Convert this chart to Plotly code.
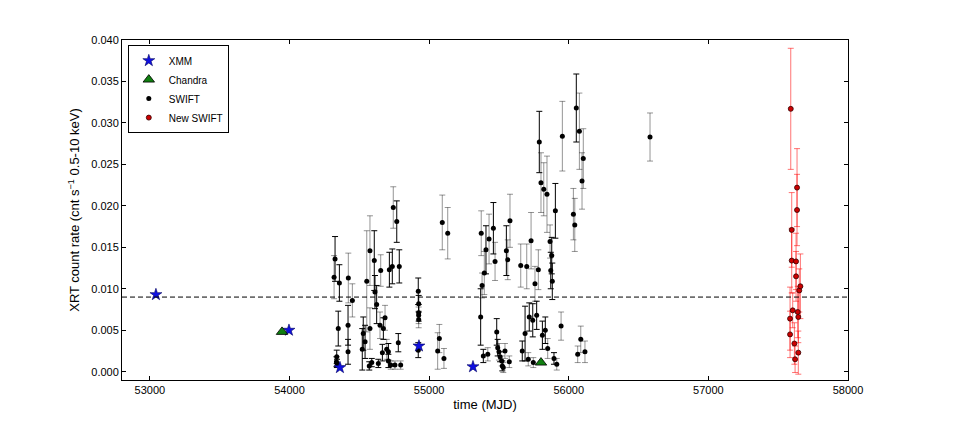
import plotly.graph_objects as go

# XMM
xmm_t = [53043, 53996, 54361, 54927, 55314]
xmm_r = [0.0093, 0.0050, 0.0005, 0.0031, 0.0006]

# Chandra
cha_t = [53946, 55801]
cha_r = [0.0048, 0.0011]

# SWIFT (dark error bars)
sw_t = [54326, 54357, 54349, 54338, 54336, 54340, 54419, 54419, 54521, 54528, 54541,
        54571, 54589, 54607, 54612, 54624, 54636, 54665, 54672, 54708, 54708, 54715,
        54736, 54768, 54786, 54779, 54922, 54925, 54925, 54922, 55369, 55388, 55407,
        55460, 55484, 55491, 55508, 55524, 55553, 55667, 55687, 55717, 55742, 55770,
        55789, 55811, 55832, 55878, 55871, 55882, 55904, 56054, 55894]
sw_r = [0.0136, 0.0107, 0.0052, 0.0018, 0.0012, 0.0010, 0.0056, 0.0024, 0.0027, 0.0046, 0.0036,
        0.0007, 0.0011, 0.0134, 0.0096, 0.0081, 0.0010, 0.0023, 0.0052, 0.0024, 0.0013, 0.0123,
        0.0127, 0.0181, 0.0127, 0.0035, 0.0097, 0.0082, 0.0071, 0.0026, 0.0066, 0.0019, 0.0147,
        0.0173, 0.0048, 0.0029, 0.0018, 0.0007, 0.0146, 0.0025, 0.0046, 0.0066, 0.0062, 0.0068,
        0.0277, 0.0044, 0.0050, 0.0140, 0.0122, 0.0109, 0.0194, 0.0318, 0.0016]
sw_e = [0.0027, 0.0022, 0.0021, 0.0008, 0.0006, 0.0005, 0.0024, 0.0015, 0.0025, 0.0020, 0.0020,
        0.0005, 0.0005, 0.0036, 0.0020, 0.0023, 0.0005, 0.0010, 0.0013, 0.0010, 0.0008, 0.0021,
        0.0021, 0.0025, 0.0020, 0.0011, 0.0016, 0.0010, 0.0010, 0.0009, 0.0034, 0.0008, 0.0029,
        0.0031, 0.0016, 0.0010, 0.0006, 0.0006, 0.0030, 0.0012, 0.0033, 0.0017, 0.0020, 0.0017,
        0.0037, 0.0017, 0.0016, 0.0022, 0.0022, 0.0022, 0.0033, 0.0041, 0.0007]

# SWIFT (light error bars)
swg_t = [54319, 54421, 54450, 54553, 54576, 54576, 54653, 54648, 54684, 54696, 54725,
         54755, 54796, 54743, 54925, 54925, 55094, 55133, 55061, 55073, 55106, 55379,
         55420, 55373, 55395, 55429, 55472, 55500, 55520, 55531, 55543, 55574, 55563,
         55579, 55656, 55699, 55710, 55730, 55746, 55758, 55782, 55801, 55821, 55844,
         55866, 55849, 55914, 55945, 55954, 56033, 56043, 56076, 56095, 56104, 56064,
         56086, 56116, 56582]
swg_r = [0.0114, 0.0113, 0.0086, 0.0109, 0.0146, 0.0052, 0.0122, 0.0056, 0.0065, 0.0027, 0.0008,
         0.0008, 0.0008, 0.0198, 0.0068, 0.0063, 0.0180, 0.0167, 0.0025, 0.0040, 0.0016, 0.0104,
         0.0021, 0.0167, 0.0119, 0.0160, 0.0133, 0.0024, 0.0013, 0.0005, 0.0025, 0.0012, 0.0135,
         0.0182, 0.0128, 0.0127, 0.0015, 0.0158, 0.0011, 0.0106, 0.0123, 0.0228, 0.0220, 0.0214,
         0.0157, 0.0028, 0.0009, 0.0055, 0.0284, 0.0190, 0.0177, 0.0290, 0.0230, 0.0257, 0.0021,
         0.0039, 0.0024, 0.0283]
swg_e = [0.0026, 0.0030, 0.0020, 0.0061, 0.0042, 0.0025, 0.0019, 0.0016, 0.0015, 0.0012, 0.0005,
         0.0005, 0.0005, 0.0025, 0.0010, 0.0010, 0.0033, 0.0031, 0.0022, 0.0017, 0.0012, 0.0015,
         0.0008, 0.0027, 0.0026, 0.0030, 0.0023, 0.0010, 0.0006, 0.0006, 0.0009, 0.0007, 0.0024,
         0.0032, 0.0026, 0.0027, 0.0008, 0.0034, 0.0006, 0.0021, 0.0024, 0.0036, 0.0032, 0.0046,
         0.0020, 0.0012, 0.0007, 0.0017, 0.0042, 0.0031, 0.0032, 0.0046, 0.0034, 0.0036, 0.0010,
         0.0016, 0.0013, 0.0029]

# New SWIFT
new_t = [57590, 57597, 57597, 57585, 57585, 57604, 57616, 57621, 57628, 57628, 57635,
         57635, 57640, 57644, 57644, 57651, 57659]
new_r = [0.0317, 0.0171, 0.0134, 0.0064, 0.0045, 0.0074, 0.0034, 0.0015, 0.0133, 0.0115, 0.0222,
         0.0195, 0.0072, 0.0066, 0.0023, 0.0098, 0.0103]
new_e = [0.0073, 0.0045, 0.0039, 0.0038, 0.0028, 0.0021, 0.0025, 0.0016, 0.0034, 0.0030, 0.0047,
         0.0043, 0.0031, 0.0031, 0.0026, 0.0026, 0.0039]

threshold = 0.009
x_ticks = [53000, 54000, 55000, 56000, 57000, 58000]
y_ticks = [0.000, 0.005, 0.010, 0.015, 0.020, 0.025, 0.030, 0.035, 0.040]

fig = go.Figure()

fig.add_trace(go.Scatter(
    x=swg_t, y=swg_r, mode="markers", name="SWIFT", showlegend=False,
    marker=dict(color="black", size=5),
    error_y=dict(type="data", array=swg_e, color="rgba(0,0,0,0.42)", thickness=1, width=3)))
fig.add_trace(go.Scatter(
    x=sw_t, y=sw_r, mode="markers", name="SWIFT", legendrank=3,
    marker=dict(color="black", size=5),
    error_y=dict(type="data", array=sw_e, color="black", thickness=1, width=3)))
fig.add_trace(go.Scatter(
    x=new_t, y=new_r, mode="markers", name="New SWIFT", legendrank=4,
    marker=dict(color="#cc0000", size=5, line=dict(color="#330000", width=0.8)),
    error_y=dict(type="data", array=new_e, color="rgba(255,0,0,0.55)", thickness=1, width=3)))
fig.add_trace(go.Scatter(
    x=xmm_t, y=xmm_r, mode="markers", name="XMM", legendrank=1,
    marker=dict(symbol="star", color="#1010e0", size=9, line=dict(color="#000060", width=0.6))))
fig.add_trace(go.Scatter(
    x=cha_t, y=cha_r, mode="markers", name="Chandra", legendrank=2,
    marker=dict(symbol="triangle-up", color="#108010", size=10, line=dict(color="black", width=0.8))))

fig.add_shape(type="line", xref="paper", yref="y", x0=0, x1=1, y0=threshold, y1=threshold,
              line=dict(color="black", width=1, dash="5px,3px"))

axis_common = dict(showline=True, linecolor="black", linewidth=1, mirror="allticks",
                   ticks="inside", ticklen=4, tickcolor="black", showgrid=False, zeroline=False,
                   tickfont=dict(family="Liberation Sans", size=11, color="black"))

fig.update_xaxes(range=[52800, 58000], tickvals=x_ticks, ticktext=[str(v) for v in x_ticks],
                 title=dict(text="time (MJD)", font=dict(family="Liberation Sans", size=13, color="black"),
                            standoff=4),
                 **axis_common)
fig.update_yaxes(range=[-0.001, 0.040], tickvals=y_ticks, ticktext=["%.3f" % v for v in y_ticks],
                 title=dict(text="XRT count rate (cnt s<sup>\u22121</sup> 0.5-10 keV)",
                            font=dict(family="Liberation Sans", size=13, color="black"), standoff=8),
                 **axis_common)

fig.update_layout(
    width=969, height=421,
    margin=dict(l=114, r=129, t=32, b=49),
    paper_bgcolor="white", plot_bgcolor="white",
    font=dict(family="Liberation Sans", color="black"),
    legend=dict(x=0.008, y=0.985, xanchor="left", yanchor="top",
                bgcolor="white", bordercolor="black", borderwidth=1,
                font=dict(family="Liberation Sans", size=10, color="black"),
                tracegroupgap=0),
)

fig.write_html("out.html")
